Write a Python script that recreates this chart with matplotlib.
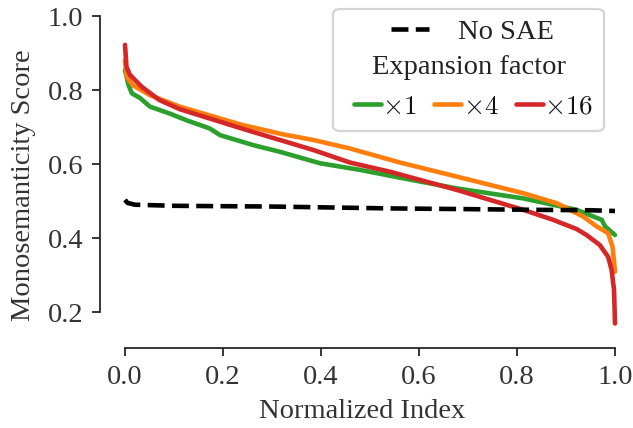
import matplotlib
matplotlib.use("Agg")
import matplotlib.pyplot as plt
from matplotlib.patches import FancyBboxPatch

# ---- data ----
nosae_x = [0.0, 0.005, 0.02, 0.1, 0.3, 0.54, 0.7, 0.85, 0.95, 1.0]
nosae_y = [0.503, 0.495, 0.490, 0.487, 0.485, 0.480, 0.478, 0.476, 0.475, 0.473]

x1_x = [0.0, 0.007, 0.014, 0.031, 0.051, 0.092, 0.126, 0.173, 0.194, 0.262, 0.316, 0.398,
        0.48, 0.561, 0.677, 0.813, 0.922, 0.956, 0.973, 0.98, 1.0]
x1_y = [0.854, 0.814, 0.791, 0.778, 0.755, 0.736, 0.718, 0.696, 0.678, 0.651, 0.633, 0.602,
        0.584, 0.563, 0.534, 0.507, 0.476, 0.458, 0.449, 0.431, 0.408]

x4_x = [0.0, 0.004, 0.016, 0.051, 0.112, 0.235, 0.323, 0.384, 0.459, 0.561, 0.677,
        0.813, 0.881, 0.935, 0.963, 0.986, 0.995, 1.0]
x4_y = [0.88, 0.835, 0.813, 0.786, 0.755, 0.707, 0.680, 0.665, 0.642, 0.604, 0.566,
        0.521, 0.494, 0.458, 0.431, 0.413, 0.376, 0.309]

x16_x = [0.0, 0.003, 0.01, 0.034, 0.07, 0.112, 0.248, 0.384, 0.459, 0.541, 0.677,
         0.813, 0.874, 0.922, 0.942, 0.969, 0.986, 0.993, 0.998, 1.0]
x16_y = [0.922, 0.863, 0.841, 0.809, 0.773, 0.748, 0.692, 0.638, 0.604, 0.579, 0.530,
         0.476, 0.449, 0.424, 0.408, 0.381, 0.349, 0.314, 0.260, 0.169]

series_labels = [r"$\times 1$", r"$\times 4$", r"$\times 16$"]
series_colors = ["#2ca02c", "#ff7f0e", "#d62728"]
xticks = [0.0, 0.2, 0.4, 0.6, 0.8, 1.0]
yticks = [0.2, 0.4, 0.6, 0.8, 1.0]

# ---- figure ----
W, H = 633, 428
plt.rcParams["font.family"] = ["Liberation Serif", "DejaVu Serif"]
plt.rcParams["mathtext.fontset"] = "cm"
fig = plt.figure(figsize=(W / 100, H / 100), dpi=100)

def fx(px):
    return px / W

def fy(py):
    return 1 - py / H

FS = 20.5
left_px, right_px, top_px, bot_px = 100, 624.8, 0, 348
ax = fig.add_axes([fx(left_px), fy(bot_px), fx(right_px - left_px), (bot_px - top_px) / H])
ax.patch.set_alpha(0)

lw = 3.3
data = [(x1_x, x1_y), (x4_x, x4_y), (x16_x, x16_y)]
handles = []
for (xs, ys), lab, col in zip(data, series_labels, series_colors):
    h, = ax.plot(xs, ys, color=col, lw=lw, label=lab, solid_capstyle="round",
                 solid_joinstyle="round", zorder=2)
    handles.append(h)
hn, = ax.plot(nosae_x, nosae_y, color="black", lw=lw, ls="--", zorder=3)

ax.set_xlim(-0.051, 1.02)
ax.set_ylim(1 - (bot_px - 16) / 370, 1 + 16 / 370)
ax.set_xticks(xticks)
ax.set_yticks(yticks)
ax.set_xticklabels([f"{v:.1f}" for v in xticks])
ax.set_yticklabels([f"{v:.1f}" for v in yticks])
for s in ["top", "right"]:
    ax.spines[s].set_visible(False)
ax.spines["left"].set_bounds(0.2, 1.0)
ax.spines["bottom"].set_bounds(0.0, 1.0)
for s in ["left", "bottom"]:
    ax.spines[s].set_linewidth(1.3)
    ax.spines[s].set_color("#262626")
ax.tick_params(axis="both", direction="out", length=6, width=1.3, color="#262626",
               labelsize=FS, labelcolor="#333333", pad=6)
ax.set_xlabel("Normalized Index", fontsize=FS, color="#333333", labelpad=7)
ax.set_ylabel("Monosemanticity Score", fontsize=FS, color="#333333", labelpad=8)
ax.yaxis.label.set_y(0.468)

# ---- legend ----
frame = FancyBboxPatch((fx(333), fy(131)), fx(604 - 333), (131 - 9) / H,
                       boxstyle="round,pad=0,rounding_size=0.012",
                       transform=fig.transFigure, facecolor="white", edgecolor="#d0d0d0",
                       lw=1.6, zorder=5, alpha=0.9)
fig.patches.append(frame)

leg1 = fig.legend([hn], ["No SAE"], loc="center", bbox_to_anchor=(fx(472), fy(32)),
                  frameon=False, fontsize=FS, handlelength=1.35, handletextpad=1.0,
                  borderpad=0, borderaxespad=0, labelcolor="#222222")
leg1.set_zorder(6)
fig.text(fx(468.5), fy(68), "Expansion factor", ha="center", va="center", fontsize=FS,
         color="#222222", zorder=6)
leg2 = fig.legend(handles, series_labels, loc="center", bbox_to_anchor=(fx(473.5), fy(107)),
                  ncol=3, frameon=False, fontsize=19.5, handlelength=1.0, handletextpad=0.05,
                  columnspacing=0.65, borderpad=0, borderaxespad=0, labelcolor="#111111")
leg2.set_zorder(6)

fig.savefig("out.png", dpi=100)
